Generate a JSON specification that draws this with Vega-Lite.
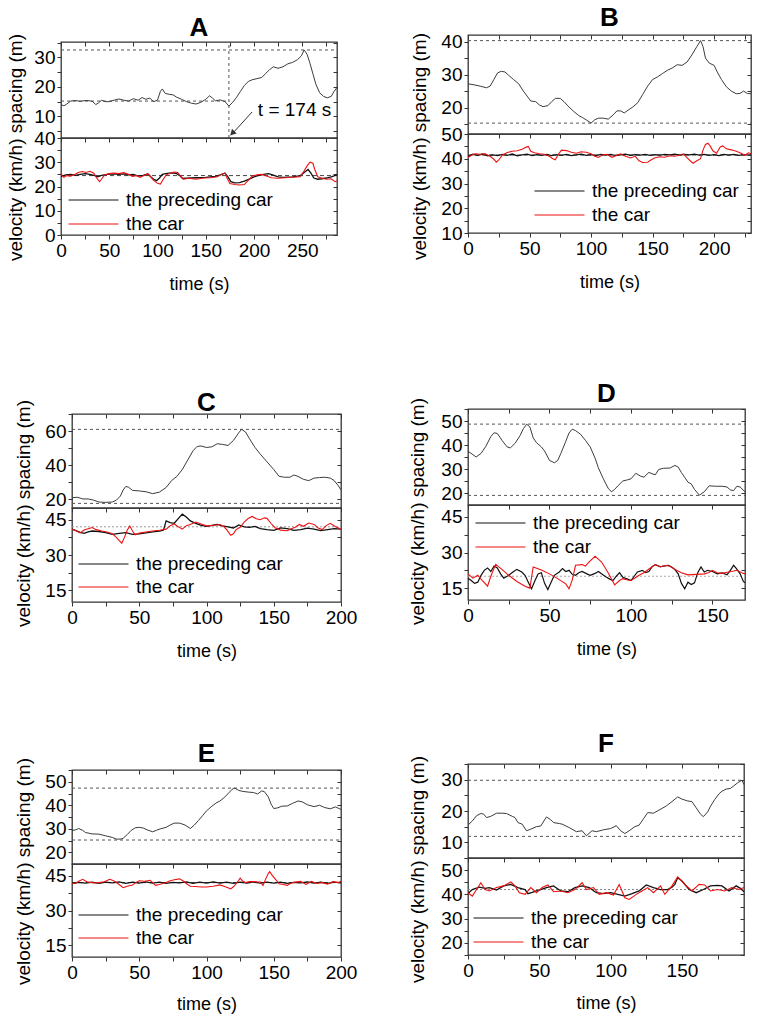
{
"$schema": "https://vega.github.io/schema/vega-lite/v6.json",
"padding": {"left": 5, "top": 3, "right": 0, "bottom": 0},
"config": {
 "font": "Liberation Sans",
 "view": {"stroke": "#333333", "strokeWidth": 1.3},
 "axis": {"grid": false, "domain": false, "labelFont": "Liberation Sans", "labelFontSize": 19, "labelColor": "#000", "titleFont": "Liberation Sans", "titleFontSize": 19, "titleFontWeight": "normal", "titleColor": "#000", "tickColor": "#333", "tickSize": 4, "tickWidth": 1, "labelPadding": 2, "labelFlush": false, "labelOverlap": false, "labelBound": false},
 "title": {"font": "Liberation Sans", "fontSize": 26, "fontWeight": "bold", "color": "#000", "anchor": "middle", "baseline": "alphabetic", "frame": "group"},
 "legend": {"title": null, "orient": "none", "symbolType": "stroke", "symbolSize": 2500, "symbolStrokeWidth": 1, "clipHeight": 20, "rowPadding": 4, "labelFont": "Liberation Sans", "labelFontSize": 19, "labelColor": "#000", "labelOffset": 7, "padding": 0}
},
"datasets": {
 "As": [{"t":0,"v":14},{"t":3,"v":13.6},{"t":6,"v":14.2},{"t":10,"v":15.2},{"t":15,"v":15.4},{"t":20,"v":15.1},{"t":25,"v":15.4},{"t":30,"v":15.3},{"t":33,"v":15.0},{"t":36,"v":14.0},{"t":39,"v":14.6},{"t":42,"v":15.5},{"t":46,"v":15.0},{"t":50,"v":15.0},{"t":55,"v":15.5},{"t":60,"v":15.9},{"t":65,"v":15.5},{"t":70,"v":15.2},{"t":75,"v":16.0},{"t":80,"v":15.5},{"t":84,"v":16.4},{"t":88,"v":15.8},{"t":92,"v":16.2},{"t":96,"v":15.0},{"t":100,"v":15.5},{"t":103,"v":18.5},{"t":105,"v":19.3},{"t":108,"v":17.8},{"t":112,"v":17.5},{"t":116,"v":17.3},{"t":120,"v":16.5},{"t":125,"v":15.8},{"t":130,"v":15.0},{"t":135,"v":14.5},{"t":140,"v":14.2},{"t":145,"v":14.8},{"t":150,"v":15.8},{"t":154,"v":17.0},{"t":157,"v":16.2},{"t":160,"v":15.3},{"t":165,"v":15.6},{"t":170,"v":15.0},{"t":174,"v":13.5},{"t":178,"v":14.8},{"t":182,"v":16.5},{"t":186,"v":18.5},{"t":190,"v":20.5},{"t":194,"v":21.8},{"t":198,"v":22.4},{"t":203,"v":22.8},{"t":208,"v":23.2},{"t":212,"v":24.5},{"t":216,"v":25.8},{"t":220,"v":26.8},{"t":225,"v":26.3},{"t":230,"v":26.8},{"t":235,"v":27.8},{"t":240,"v":28.3},{"t":245,"v":29.2},{"t":249,"v":30.5},{"t":252,"v":32.5},{"t":255,"v":31.0},{"t":258,"v":28.0},{"t":261,"v":24.5},{"t":264,"v":21.0},{"t":268,"v":18.0},{"t":272,"v":16.8},{"t":276,"v":16.3},{"t":280,"v":16.8},{"t":283,"v":18.5},{"t":286,"v":19.8}],
 "Asr": [{"x0":0,"x1":286,"y0":32.5,"y1":32.5},{"x0":0,"x1":174,"y0":15.2,"y1":15.2},{"x0":174,"x1":174,"y0":2.7,"y1":35.2}],
 "Avp": [{"t":0,"v":24.2},{"t":5,"v":24.8},{"t":10,"v":25.0},{"t":15,"v":24.6},{"t":20,"v":25.0},{"t":25,"v":25.3},{"t":30,"v":25.0},{"t":35,"v":24.5},{"t":38,"v":24.0},{"t":42,"v":24.6},{"t":48,"v":25.0},{"t":55,"v":25.2},{"t":60,"v":25.0},{"t":65,"v":25.2},{"t":70,"v":24.8},{"t":75,"v":25.0},{"t":80,"v":24.3},{"t":85,"v":24.6},{"t":90,"v":25.2},{"t":93,"v":24.0},{"t":96,"v":23.0},{"t":99,"v":22.4},{"t":102,"v":23.5},{"t":105,"v":25.0},{"t":110,"v":25.4},{"t":115,"v":25.6},{"t":120,"v":25.3},{"t":123,"v":24.5},{"t":126,"v":23.3},{"t":130,"v":23.4},{"t":140,"v":23.6},{"t":150,"v":23.8},{"t":160,"v":24.2},{"t":165,"v":24.8},{"t":170,"v":25.5},{"t":173,"v":24.0},{"t":176,"v":22.0},{"t":180,"v":21.5},{"t":185,"v":21.6},{"t":190,"v":22.2},{"t":195,"v":23.0},{"t":200,"v":24.0},{"t":205,"v":24.6},{"t":210,"v":25.0},{"t":215,"v":25.3},{"t":220,"v":24.7},{"t":225,"v":24.0},{"t":230,"v":23.8},{"t":240,"v":24.0},{"t":248,"v":24.5},{"t":252,"v":25.8},{"t":256,"v":27.0},{"t":259,"v":25.5},{"t":262,"v":23.5},{"t":266,"v":23.0},{"t":270,"v":23.2},{"t":275,"v":23.5},{"t":280,"v":24.0},{"t":286,"v":24.8}],
 "Avc": [{"t":0,"v":26.8},{"t":1,"v":24.5},{"t":3,"v":23.8},{"t":6,"v":24.5},{"t":10,"v":24.3},{"t":15,"v":25.2},{"t":18,"v":25.8},{"t":22,"v":26.2},{"t":26,"v":25.8},{"t":30,"v":26.3},{"t":34,"v":25.5},{"t":37,"v":23.5},{"t":40,"v":22.0},{"t":42,"v":23.0},{"t":45,"v":24.8},{"t":50,"v":25.3},{"t":55,"v":25.5},{"t":60,"v":25.3},{"t":65,"v":25.7},{"t":70,"v":25.0},{"t":74,"v":24.2},{"t":78,"v":24.5},{"t":82,"v":23.8},{"t":86,"v":24.5},{"t":90,"v":25.3},{"t":93,"v":24.0},{"t":96,"v":22.5},{"t":100,"v":21.3},{"t":103,"v":21.0},{"t":106,"v":23.0},{"t":109,"v":24.8},{"t":113,"v":25.5},{"t":117,"v":26.0},{"t":121,"v":25.8},{"t":124,"v":24.2},{"t":127,"v":23.0},{"t":132,"v":23.4},{"t":140,"v":23.0},{"t":148,"v":23.5},{"t":155,"v":23.6},{"t":162,"v":24.0},{"t":166,"v":25.0},{"t":170,"v":25.6},{"t":172,"v":23.5},{"t":175,"v":21.2},{"t":180,"v":20.8},{"t":185,"v":20.6},{"t":190,"v":20.8},{"t":194,"v":22.5},{"t":198,"v":24.2},{"t":203,"v":24.8},{"t":208,"v":25.0},{"t":213,"v":24.3},{"t":218,"v":23.6},{"t":225,"v":23.4},{"t":232,"v":23.6},{"t":240,"v":23.8},{"t":248,"v":24.0},{"t":252,"v":26.5},{"t":255,"v":28.5},{"t":258,"v":30.0},{"t":261,"v":29.6},{"t":263,"v":27.0},{"t":266,"v":24.0},{"t":270,"v":23.5},{"t":275,"v":23.0},{"t":280,"v":23.2},{"t":284,"v":22.0},{"t":286,"v":22.3}],
 "Avr": [{"x0":0,"x1":286,"y0":24.5,"y1":24.5}],
 "Bs": [{"t":0,"v":27.2},{"t":5,"v":26.9},{"t":10,"v":26.5},{"t":15,"v":26.0},{"t":18,"v":26.5},{"t":21,"v":28.5},{"t":24,"v":30.5},{"t":27,"v":31.0},{"t":30,"v":30.8},{"t":33,"v":29.8},{"t":37,"v":28.5},{"t":41,"v":27.3},{"t":45,"v":25.0},{"t":48,"v":23.5},{"t":51,"v":22.0},{"t":55,"v":21.8},{"t":58,"v":20.8},{"t":61,"v":20.3},{"t":65,"v":20.6},{"t":68,"v":21.8},{"t":71,"v":22.8},{"t":75,"v":22.8},{"t":78,"v":21.8},{"t":82,"v":20.2},{"t":86,"v":18.8},{"t":90,"v":17.6},{"t":93,"v":17.0},{"t":96,"v":16.3},{"t":100,"v":15.3},{"t":103,"v":16.3},{"t":106,"v":16.8},{"t":110,"v":16.8},{"t":114,"v":16.5},{"t":118,"v":17.8},{"t":121,"v":19.0},{"t":124,"v":19.0},{"t":127,"v":18.4},{"t":130,"v":19.2},{"t":134,"v":20.2},{"t":138,"v":21.5},{"t":142,"v":24.0},{"t":146,"v":26.5},{"t":150,"v":28.5},{"t":154,"v":29.3},{"t":158,"v":30.3},{"t":162,"v":31.3},{"t":166,"v":32.0},{"t":170,"v":33.0},{"t":174,"v":32.8},{"t":178,"v":33.8},{"t":182,"v":36.0},{"t":186,"v":38.5},{"t":189,"v":40.3},{"t":191,"v":38.5},{"t":193,"v":35.0},{"t":196,"v":33.5},{"t":200,"v":32.8},{"t":203,"v":30.5},{"t":206,"v":28.5},{"t":210,"v":26.3},{"t":214,"v":25.0},{"t":218,"v":24.2},{"t":221,"v":24.3},{"t":224,"v":25.0},{"t":227,"v":24.3},{"t":230,"v":24.2}],
 "Bsr": [{"x0":0,"x1":230,"y0":40.3,"y1":40.3},{"x0":0,"x1":230,"y0":15.3,"y1":15.3}],
 "Bvp": [{"t":0,"v":41.0},{"t":4,"v":41.8},{"t":8,"v":41.4},{"t":12,"v":41.9},{"t":16,"v":41.2},{"t":20,"v":41.6},{"t":24,"v":41.3},{"t":28,"v":41.8},{"t":32,"v":41.4},{"t":36,"v":41.9},{"t":40,"v":41.2},{"t":44,"v":41.6},{"t":48,"v":41.9},{"t":52,"v":41.3},{"t":56,"v":41.7},{"t":60,"v":41.4},{"t":64,"v":41.8},{"t":68,"v":41.3},{"t":72,"v":41.7},{"t":76,"v":41.4},{"t":80,"v":41.8},{"t":84,"v":41.3},{"t":88,"v":41.6},{"t":92,"v":41.9},{"t":96,"v":41.4},{"t":100,"v":41.7},{"t":104,"v":41.3},{"t":108,"v":41.8},{"t":112,"v":41.5},{"t":116,"v":41.8},{"t":120,"v":41.3},{"t":124,"v":41.6},{"t":128,"v":41.9},{"t":132,"v":41.4},{"t":136,"v":41.7},{"t":140,"v":41.5},{"t":144,"v":41.8},{"t":148,"v":41.4},{"t":152,"v":41.7},{"t":156,"v":41.5},{"t":160,"v":41.8},{"t":164,"v":41.6},{"t":168,"v":41.9},{"t":172,"v":41.5},{"t":176,"v":41.8},{"t":180,"v":41.6},{"t":184,"v":41.9},{"t":188,"v":41.5},{"t":192,"v":41.8},{"t":196,"v":41.4},{"t":200,"v":41.7},{"t":204,"v":41.3},{"t":208,"v":41.8},{"t":212,"v":41.5},{"t":216,"v":41.8},{"t":220,"v":41.4},{"t":224,"v":41.7},{"t":228,"v":41.5},{"t":230,"v":41.6}],
 "Bvc": [{"t":0,"v":40.5},{"t":3,"v":41.5},{"t":6,"v":42.0},{"t":10,"v":41.8},{"t":14,"v":42.0},{"t":18,"v":41.0},{"t":21,"v":39.8},{"t":23,"v":38.6},{"t":25,"v":39.5},{"t":28,"v":41.5},{"t":32,"v":42.5},{"t":36,"v":43.0},{"t":40,"v":43.2},{"t":44,"v":43.8},{"t":47,"v":44.6},{"t":49,"v":45.0},{"t":51,"v":43.0},{"t":54,"v":42.4},{"t":58,"v":42.0},{"t":62,"v":41.8},{"t":66,"v":41.0},{"t":69,"v":40.0},{"t":71,"v":39.6},{"t":73,"v":41.5},{"t":76,"v":43.5},{"t":80,"v":43.3},{"t":84,"v":42.6},{"t":88,"v":42.2},{"t":92,"v":42.8},{"t":96,"v":42.6},{"t":100,"v":42.0},{"t":103,"v":41.0},{"t":106,"v":40.5},{"t":109,"v":41.5},{"t":113,"v":41.8},{"t":117,"v":40.6},{"t":120,"v":41.2},{"t":124,"v":42.0},{"t":128,"v":41.0},{"t":132,"v":40.3},{"t":136,"v":41.0},{"t":139,"v":39.2},{"t":142,"v":38.5},{"t":146,"v":38.6},{"t":149,"v":39.6},{"t":152,"v":40.4},{"t":156,"v":40.8},{"t":160,"v":40.6},{"t":164,"v":41.2},{"t":168,"v":41.0},{"t":172,"v":41.4},{"t":175,"v":42.0},{"t":178,"v":40.5},{"t":181,"v":39.0},{"t":183,"v":38.2},{"t":186,"v":39.2},{"t":189,"v":40.0},{"t":191,"v":43.5},{"t":193,"v":45.8},{"t":195,"v":46.3},{"t":197,"v":45.0},{"t":199,"v":43.2},{"t":202,"v":42.2},{"t":205,"v":44.8},{"t":207,"v":45.2},{"t":210,"v":44.0},{"t":214,"v":43.6},{"t":218,"v":43.0},{"t":222,"v":42.2},{"t":225,"v":41.4},{"t":228,"v":42.4},{"t":230,"v":42.0}],
 "Bvr": [{"x0":0,"x1":230,"y0":41.5,"y1":41.5}],
 "Cs": [{"t":0,"v":21.0},{"t":4,"v":21.3},{"t":8,"v":20.3},{"t":12,"v":20.3},{"t":16,"v":19.6},{"t":20,"v":18.5},{"t":25,"v":18.3},{"t":30,"v":18.5},{"t":33,"v":19.6},{"t":36,"v":22.0},{"t":38,"v":25.5},{"t":40,"v":27.6},{"t":42,"v":27.2},{"t":45,"v":25.3},{"t":50,"v":25.0},{"t":55,"v":24.5},{"t":60,"v":23.4},{"t":65,"v":24.3},{"t":70,"v":27.0},{"t":74,"v":31.0},{"t":78,"v":33.5},{"t":82,"v":37.5},{"t":86,"v":43.0},{"t":90,"v":48.5},{"t":93,"v":51.0},{"t":96,"v":51.3},{"t":100,"v":50.4},{"t":104,"v":50.8},{"t":108,"v":52.6},{"t":112,"v":52.2},{"t":116,"v":51.6},{"t":120,"v":54.5},{"t":124,"v":59.0},{"t":126,"v":61.0},{"t":129,"v":59.5},{"t":132,"v":55.5},{"t":136,"v":50.5},{"t":140,"v":46.5},{"t":145,"v":42.0},{"t":150,"v":37.5},{"t":154,"v":33.5},{"t":158,"v":33.0},{"t":162,"v":33.0},{"t":165,"v":34.3},{"t":168,"v":33.5},{"t":172,"v":31.8},{"t":176,"v":31.0},{"t":180,"v":32.5},{"t":184,"v":32.8},{"t":188,"v":33.0},{"t":192,"v":32.5},{"t":195,"v":31.0},{"t":198,"v":28.0},{"t":200,"v":25.5}],
 "Csr": [{"x0":0,"x1":200,"y0":61.0,"y1":61.0},{"x0":0,"x1":200,"y0":17.7,"y1":17.7}],
 "Cvp": [{"t":0,"v":41.0},{"t":3,"v":40.4},{"t":6,"v":39.6},{"t":9,"v":39.2},{"t":12,"v":39.8},{"t":15,"v":40.2},{"t":20,"v":40.0},{"t":25,"v":39.5},{"t":30,"v":38.8},{"t":35,"v":39.2},{"t":40,"v":39.5},{"t":45,"v":38.8},{"t":50,"v":39.0},{"t":55,"v":39.4},{"t":60,"v":39.8},{"t":65,"v":40.2},{"t":68,"v":40.6},{"t":70,"v":44.5},{"t":73,"v":43.8},{"t":76,"v":43.5},{"t":79,"v":45.5},{"t":82,"v":47.4},{"t":85,"v":46.2},{"t":88,"v":44.5},{"t":92,"v":43.5},{"t":96,"v":42.6},{"t":100,"v":42.2},{"t":104,"v":42.6},{"t":108,"v":43.0},{"t":112,"v":42.4},{"t":116,"v":42.0},{"t":120,"v":41.5},{"t":124,"v":42.8},{"t":128,"v":42.0},{"t":132,"v":41.8},{"t":136,"v":42.2},{"t":140,"v":41.2},{"t":145,"v":40.8},{"t":150,"v":40.5},{"t":155,"v":41.5},{"t":160,"v":41.2},{"t":165,"v":40.5},{"t":170,"v":40.8},{"t":175,"v":41.4},{"t":180,"v":41.0},{"t":185,"v":40.4},{"t":190,"v":40.8},{"t":195,"v":41.2},{"t":200,"v":41.0}],
 "Cvc": [{"t":0,"v":41.0},{"t":3,"v":40.3},{"t":6,"v":39.4},{"t":9,"v":40.6},{"t":12,"v":41.2},{"t":15,"v":41.7},{"t":18,"v":40.8},{"t":22,"v":40.2},{"t":26,"v":39.8},{"t":30,"v":39.0},{"t":33,"v":37.5},{"t":35,"v":36.2},{"t":37,"v":35.0},{"t":39,"v":37.5},{"t":41,"v":40.5},{"t":43,"v":42.3},{"t":45,"v":40.2},{"t":47,"v":38.6},{"t":50,"v":39.3},{"t":55,"v":39.8},{"t":60,"v":40.2},{"t":65,"v":40.5},{"t":70,"v":41.0},{"t":73,"v":42.5},{"t":76,"v":43.2},{"t":79,"v":42.0},{"t":82,"v":41.0},{"t":85,"v":42.5},{"t":88,"v":43.0},{"t":92,"v":44.0},{"t":96,"v":43.2},{"t":100,"v":42.4},{"t":105,"v":42.6},{"t":110,"v":43.0},{"t":113,"v":42.0},{"t":115,"v":40.8},{"t":118,"v":38.4},{"t":120,"v":39.0},{"t":122,"v":40.8},{"t":125,"v":41.8},{"t":128,"v":44.0},{"t":131,"v":45.5},{"t":134,"v":46.4},{"t":137,"v":45.4},{"t":140,"v":45.0},{"t":143,"v":45.8},{"t":145,"v":45.6},{"t":148,"v":43.4},{"t":151,"v":41.6},{"t":155,"v":40.6},{"t":160,"v":40.3},{"t":163,"v":41.2},{"t":166,"v":41.8},{"t":169,"v":43.0},{"t":172,"v":42.2},{"t":176,"v":43.6},{"t":180,"v":43.0},{"t":183,"v":41.5},{"t":186,"v":40.8},{"t":189,"v":42.5},{"t":192,"v":43.5},{"t":196,"v":42.0},{"t":200,"v":41.0}],
 "Cvr": [{"x0":0,"x1":200,"y0":42.0,"y1":42.0}],
 "Ds": [{"t":0,"v":37.4},{"t":3,"v":36.0},{"t":5,"v":35.0},{"t":8,"v":36.5},{"t":11,"v":39.5},{"t":14,"v":43.5},{"t":16,"v":45.1},{"t":18,"v":44.8},{"t":21,"v":41.8},{"t":24,"v":39.2},{"t":26,"v":38.8},{"t":29,"v":40.8},{"t":32,"v":44.0},{"t":34,"v":46.8},{"t":36,"v":48.7},{"t":38,"v":47.5},{"t":40,"v":43.0},{"t":42,"v":41.0},{"t":45,"v":39.2},{"t":47,"v":37.5},{"t":50,"v":33.6},{"t":53,"v":32.6},{"t":55,"v":33.5},{"t":57,"v":36.5},{"t":60,"v":41.5},{"t":62,"v":45.0},{"t":64,"v":46.6},{"t":66,"v":46.0},{"t":69,"v":44.5},{"t":72,"v":42.0},{"t":75,"v":39.2},{"t":78,"v":34.5},{"t":80,"v":30.5},{"t":83,"v":26.0},{"t":86,"v":22.0},{"t":88,"v":20.5},{"t":90,"v":21.5},{"t":92,"v":23.0},{"t":95,"v":25.0},{"t":98,"v":25.5},{"t":100,"v":25.9},{"t":103,"v":28.2},{"t":106,"v":27.0},{"t":108,"v":26.6},{"t":111,"v":28.6},{"t":113,"v":28.0},{"t":115,"v":27.6},{"t":117,"v":29.8},{"t":120,"v":30.3},{"t":124,"v":30.4},{"t":127,"v":31.5},{"t":129,"v":30.8},{"t":131,"v":28.5},{"t":133,"v":26.5},{"t":135,"v":24.5},{"t":137,"v":23.8},{"t":139,"v":21.5},{"t":142,"v":19.1},{"t":145,"v":20.5},{"t":148,"v":23.0},{"t":152,"v":22.8},{"t":156,"v":22.8},{"t":159,"v":22.5},{"t":161,"v":21.3},{"t":163,"v":21.0},{"t":165,"v":22.8},{"t":167,"v":22.5},{"t":170,"v":20.5}],
 "Dsr": [{"x0":0,"x1":170,"y0":48.7,"y1":48.7},{"x0":0,"x1":170,"y0":19.0,"y1":19.0}],
 "Dvp": [{"t":0,"v":19.2},{"t":2,"v":18.2},{"t":4,"v":17.0},{"t":6,"v":17.5},{"t":8,"v":20.4},{"t":10,"v":22.5},{"t":12,"v":23.5},{"t":14,"v":22.0},{"t":16,"v":24.3},{"t":18,"v":23.5},{"t":20,"v":21.0},{"t":22,"v":19.2},{"t":25,"v":20.4},{"t":28,"v":22.0},{"t":30,"v":22.9},{"t":33,"v":21.8},{"t":35,"v":20.4},{"t":37,"v":17.5},{"t":39,"v":14.7},{"t":41,"v":18.0},{"t":43,"v":21.0},{"t":45,"v":21.5},{"t":47,"v":17.0},{"t":49,"v":14.4},{"t":51,"v":17.5},{"t":53,"v":20.4},{"t":56,"v":21.8},{"t":58,"v":23.2},{"t":60,"v":22.0},{"t":62,"v":22.5},{"t":64,"v":20.8},{"t":66,"v":20.4},{"t":68,"v":21.5},{"t":70,"v":22.0},{"t":73,"v":21.0},{"t":75,"v":20.4},{"t":78,"v":21.2},{"t":80,"v":22.0},{"t":83,"v":20.5},{"t":85,"v":19.6},{"t":87,"v":18.8},{"t":89,"v":18.2},{"t":91,"v":20.0},{"t":93,"v":21.5},{"t":95,"v":19.6},{"t":98,"v":18.8},{"t":100,"v":18.2},{"t":102,"v":20.0},{"t":104,"v":21.8},{"t":107,"v":22.5},{"t":109,"v":21.5},{"t":111,"v":22.0},{"t":113,"v":24.0},{"t":115,"v":24.9},{"t":118,"v":24.0},{"t":120,"v":24.3},{"t":123,"v":24.6},{"t":125,"v":23.9},{"t":127,"v":22.8},{"t":129,"v":21.0},{"t":131,"v":17.0},{"t":133,"v":14.7},{"t":135,"v":17.5},{"t":137,"v":16.5},{"t":139,"v":17.2},{"t":141,"v":21.5},{"t":143,"v":23.9},{"t":145,"v":21.8},{"t":147,"v":22.5},{"t":150,"v":22.0},{"t":153,"v":21.0},{"t":156,"v":21.4},{"t":159,"v":20.6},{"t":161,"v":22.5},{"t":163,"v":24.6},{"t":165,"v":23.0},{"t":167,"v":21.0},{"t":169,"v":17.8},{"t":170,"v":17.3}],
 "Dvc": [{"t":0,"v":21.0},{"t":3,"v":19.2},{"t":6,"v":20.4},{"t":9,"v":18.0},{"t":12,"v":15.8},{"t":14,"v":20.0},{"t":17,"v":25.0},{"t":21,"v":22.8},{"t":25,"v":20.4},{"t":30,"v":17.8},{"t":35,"v":15.8},{"t":38,"v":15.0},{"t":40,"v":23.9},{"t":45,"v":22.6},{"t":50,"v":21.0},{"t":55,"v":19.0},{"t":60,"v":16.8},{"t":62,"v":14.7},{"t":64,"v":18.5},{"t":66,"v":24.6},{"t":70,"v":24.9},{"t":72,"v":24.3},{"t":75,"v":26.5},{"t":78,"v":28.4},{"t":80,"v":27.2},{"t":82,"v":26.0},{"t":86,"v":21.5},{"t":90,"v":16.4},{"t":93,"v":18.2},{"t":95,"v":19.0},{"t":98,"v":18.4},{"t":100,"v":18.2},{"t":103,"v":19.5},{"t":105,"v":20.4},{"t":108,"v":21.5},{"t":110,"v":22.5},{"t":113,"v":24.0},{"t":115,"v":24.9},{"t":118,"v":24.0},{"t":122,"v":24.6},{"t":125,"v":23.8},{"t":128,"v":22.5},{"t":131,"v":21.5},{"t":135,"v":20.6},{"t":140,"v":20.8},{"t":145,"v":21.0},{"t":148,"v":21.6},{"t":150,"v":22.5},{"t":153,"v":21.5},{"t":156,"v":21.2},{"t":160,"v":21.8},{"t":163,"v":22.2},{"t":165,"v":22.5},{"t":168,"v":21.5},{"t":170,"v":21.0}],
 "Dvr": [{"x0":0,"x1":170,"y0":20.0,"y1":20.0}],
 "Es": [{"t":0,"v":29.2},{"t":3,"v":29.6},{"t":5,"v":30.1},{"t":8,"v":29.3},{"t":10,"v":28.4},{"t":15,"v":27.8},{"t":20,"v":27.7},{"t":25,"v":27.0},{"t":30,"v":26.3},{"t":33,"v":25.6},{"t":36,"v":25.6},{"t":38,"v":25.9},{"t":41,"v":27.5},{"t":44,"v":29.3},{"t":47,"v":30.4},{"t":50,"v":30.6},{"t":53,"v":30.3},{"t":56,"v":29.5},{"t":60,"v":28.7},{"t":63,"v":29.4},{"t":66,"v":30.0},{"t":70,"v":30.6},{"t":73,"v":31.6},{"t":76,"v":32.4},{"t":80,"v":32.4},{"t":84,"v":31.6},{"t":88,"v":30.1},{"t":91,"v":31.6},{"t":94,"v":33.5},{"t":97,"v":35.5},{"t":100,"v":37.6},{"t":104,"v":39.6},{"t":107,"v":40.9},{"t":110,"v":41.8},{"t":113,"v":43.2},{"t":116,"v":44.9},{"t":119,"v":46.8},{"t":121,"v":47.3},{"t":124,"v":46.3},{"t":127,"v":45.9},{"t":131,"v":45.6},{"t":135,"v":45.4},{"t":138,"v":44.8},{"t":141,"v":46.1},{"t":143,"v":45.8},{"t":146,"v":43.5},{"t":148,"v":40.5},{"t":150,"v":38.6},{"t":153,"v":38.9},{"t":156,"v":39.6},{"t":160,"v":39.7},{"t":164,"v":40.8},{"t":168,"v":41.8},{"t":171,"v":41.5},{"t":175,"v":40.2},{"t":180,"v":39.4},{"t":184,"v":40.0},{"t":188,"v":39.0},{"t":192,"v":38.5},{"t":196,"v":39.3},{"t":200,"v":38.2}],
 "Esr": [{"x0":0,"x1":200,"y0":47.3,"y1":47.3},{"x0":0,"x1":200,"y0":25.2,"y1":25.2}],
 "Evp": [{"t":0,"v":41.6},{"t":5,"v":42.1},{"t":10,"v":41.8},{"t":15,"v":42.2},{"t":20,"v":41.7},{"t":25,"v":42.2},{"t":30,"v":41.9},{"t":35,"v":42.3},{"t":40,"v":41.7},{"t":45,"v":42.2},{"t":50,"v":41.8},{"t":55,"v":42.3},{"t":60,"v":41.8},{"t":65,"v":42.2},{"t":70,"v":41.7},{"t":75,"v":42.1},{"t":80,"v":41.9},{"t":85,"v":42.3},{"t":90,"v":41.7},{"t":95,"v":42.2},{"t":100,"v":41.8},{"t":105,"v":42.3},{"t":110,"v":41.8},{"t":115,"v":42.2},{"t":120,"v":41.7},{"t":125,"v":42.2},{"t":130,"v":41.8},{"t":135,"v":42.3},{"t":140,"v":41.8},{"t":145,"v":42.2},{"t":150,"v":41.8},{"t":155,"v":42.2},{"t":160,"v":41.7},{"t":165,"v":42.1},{"t":170,"v":41.9},{"t":175,"v":42.3},{"t":180,"v":41.8},{"t":185,"v":42.2},{"t":190,"v":41.7},{"t":195,"v":42.2},{"t":200,"v":41.9}],
 "Evc": [{"t":0,"v":41.5},{"t":3,"v":41.8},{"t":5,"v":42.6},{"t":8,"v":43.4},{"t":10,"v":42.7},{"t":12,"v":42.2},{"t":16,"v":41.9},{"t":20,"v":42.0},{"t":24,"v":42.4},{"t":28,"v":43.4},{"t":30,"v":43.0},{"t":32,"v":42.5},{"t":35,"v":41.2},{"t":38,"v":39.8},{"t":41,"v":40.4},{"t":45,"v":41.0},{"t":48,"v":42.2},{"t":50,"v":42.8},{"t":54,"v":42.6},{"t":58,"v":43.0},{"t":60,"v":42.0},{"t":62,"v":40.8},{"t":65,"v":41.2},{"t":70,"v":42.0},{"t":73,"v":42.8},{"t":76,"v":43.2},{"t":80,"v":43.6},{"t":83,"v":42.6},{"t":86,"v":41.2},{"t":88,"v":40.4},{"t":92,"v":40.3},{"t":96,"v":40.1},{"t":100,"v":40.1},{"t":105,"v":40.4},{"t":110,"v":41.0},{"t":114,"v":40.2},{"t":118,"v":39.3},{"t":120,"v":40.2},{"t":122,"v":41.5},{"t":124,"v":43.0},{"t":125,"v":43.9},{"t":127,"v":42.6},{"t":129,"v":42.0},{"t":132,"v":42.4},{"t":135,"v":42.5},{"t":138,"v":42.2},{"t":140,"v":42.2},{"t":142,"v":40.8},{"t":144,"v":43.5},{"t":146,"v":46.0},{"t":147,"v":46.7},{"t":149,"v":45.0},{"t":151,"v":43.6},{"t":154,"v":41.5},{"t":157,"v":41.2},{"t":160,"v":40.8},{"t":163,"v":41.8},{"t":166,"v":42.2},{"t":170,"v":42.5},{"t":174,"v":41.2},{"t":178,"v":42.5},{"t":182,"v":41.6},{"t":186,"v":42.0},{"t":190,"v":41.3},{"t":194,"v":42.4},{"t":198,"v":42.0},{"t":200,"v":42.6}],
 "Evr": [{"x0":0,"x1":200,"y0":42.0,"y1":42.0}],
 "Fs": [{"t":0,"v":15.5},{"t":3,"v":16.8},{"t":6,"v":18.5},{"t":9,"v":19.2},{"t":11,"v":19.0},{"t":13,"v":17.9},{"t":16,"v":18.3},{"t":20,"v":19.3},{"t":24,"v":19.3},{"t":27,"v":19.2},{"t":31,"v":18.3},{"t":33,"v":17.9},{"t":35,"v":16.3},{"t":38,"v":15.8},{"t":41,"v":13.7},{"t":44,"v":14.2},{"t":48,"v":15.0},{"t":51,"v":15.2},{"t":55,"v":18.1},{"t":58,"v":17.2},{"t":60,"v":16.3},{"t":64,"v":16.0},{"t":66,"v":15.8},{"t":71,"v":14.7},{"t":76,"v":13.4},{"t":80,"v":13.7},{"t":83,"v":12.1},{"t":87,"v":13.7},{"t":90,"v":13.4},{"t":95,"v":14.0},{"t":100,"v":14.4},{"t":104,"v":15.3},{"t":107,"v":13.7},{"t":110,"v":12.8},{"t":113,"v":13.7},{"t":117,"v":15.0},{"t":120,"v":15.5},{"t":123,"v":17.5},{"t":126,"v":19.5},{"t":130,"v":19.3},{"t":134,"v":20.3},{"t":139,"v":21.6},{"t":143,"v":23.0},{"t":147,"v":24.5},{"t":150,"v":23.8},{"t":154,"v":23.2},{"t":157,"v":23.0},{"t":160,"v":21.0},{"t":163,"v":19.0},{"t":165,"v":18.2},{"t":168,"v":19.7},{"t":170,"v":21.5},{"t":173,"v":23.7},{"t":176,"v":25.5},{"t":178,"v":26.3},{"t":181,"v":27.0},{"t":184,"v":27.2},{"t":186,"v":27.9},{"t":189,"v":29.0},{"t":192,"v":29.8},{"t":193.5,"v":28.4}],
 "Fsr": [{"x0":0,"x1":193.5,"y0":29.8,"y1":29.8},{"x0":0,"x1":193.5,"y0":11.9,"y1":11.9}],
 "Fvp": [{"t":0,"v":40.3},{"t":3,"v":42.0},{"t":8,"v":43.0},{"t":12,"v":42.5},{"t":15,"v":42.8},{"t":20,"v":41.8},{"t":25,"v":43.5},{"t":30,"v":44.1},{"t":35,"v":42.8},{"t":40,"v":42.0},{"t":42,"v":40.3},{"t":45,"v":40.8},{"t":48,"v":41.4},{"t":52,"v":42.2},{"t":55,"v":42.8},{"t":60,"v":43.5},{"t":65,"v":41.4},{"t":70,"v":41.1},{"t":75,"v":42.8},{"t":80,"v":43.5},{"t":85,"v":42.8},{"t":88,"v":41.5},{"t":90,"v":40.7},{"t":95,"v":40.3},{"t":100,"v":40.7},{"t":105,"v":40.0},{"t":110,"v":39.3},{"t":115,"v":40.3},{"t":120,"v":41.4},{"t":125,"v":43.9},{"t":130,"v":42.8},{"t":135,"v":42.0},{"t":140,"v":42.0},{"t":143,"v":43.0},{"t":145,"v":44.1},{"t":147,"v":46.9},{"t":150,"v":45.5},{"t":155,"v":42.0},{"t":160,"v":40.7},{"t":165,"v":42.0},{"t":170,"v":43.5},{"t":175,"v":43.7},{"t":178,"v":43.5},{"t":183,"v":41.4},{"t":188,"v":43.5},{"t":191,"v":42.5},{"t":193.5,"v":41.1}],
 "Fvc": [{"t":0,"v":40.7},{"t":3,"v":39.3},{"t":6,"v":42.0},{"t":9,"v":44.8},{"t":12,"v":42.0},{"t":15,"v":41.4},{"t":20,"v":42.8},{"t":25,"v":43.5},{"t":30,"v":45.1},{"t":33,"v":43.5},{"t":36,"v":40.7},{"t":40,"v":40.0},{"t":44,"v":42.8},{"t":48,"v":40.7},{"t":52,"v":42.8},{"t":56,"v":43.9},{"t":60,"v":41.1},{"t":65,"v":41.4},{"t":70,"v":40.7},{"t":75,"v":42.0},{"t":80,"v":44.8},{"t":83,"v":42.0},{"t":88,"v":42.8},{"t":92,"v":40.0},{"t":97,"v":40.7},{"t":102,"v":39.7},{"t":106,"v":44.1},{"t":110,"v":38.6},{"t":113,"v":37.9},{"t":118,"v":40.0},{"t":122,"v":41.4},{"t":126,"v":42.8},{"t":130,"v":40.7},{"t":135,"v":43.5},{"t":138,"v":40.0},{"t":143,"v":43.5},{"t":147,"v":47.2},{"t":152,"v":44.1},{"t":157,"v":41.4},{"t":162,"v":44.1},{"t":166,"v":43.9},{"t":170,"v":41.4},{"t":175,"v":42.0},{"t":180,"v":41.4},{"t":185,"v":42.8},{"t":190,"v":42.0},{"t":193.5,"v":42.8}],
 "Fvr": [{"x0":0,"x1":193.5,"y0":42.0,"y1":42.0}]
},
"bounds": "flush",
"spacing": 407,
"resolve": {"scale": {"color": "independent"}, "legend": {"color": "independent"}},
"hconcat": [
 {"bounds": "flush", "spacing": 0, "resolve": {"scale": {"color": "independent"}, "legend": {"color": "independent"}},
  "vconcat": [
   {"width": 1, "height": 7, "data": {"values": [{}]}, "mark": {"type": "point", "opacity": 0}, "encoding": {}, "view": {"stroke": null}},
   {"width": 276, "height": 96, "title": {"text": "A", "offset": -7},
    "layer": [
     {"data": {"name": "Asr"}, "mark": {"type": "rule", "color": "#555", "strokeDash": [3,3], "strokeWidth": 1},
      "encoding": {"x": {"field": "x0", "type": "quantitative", "scale": {"domain": [0,286], "nice": false, "zero": false}, "axis": {"orient": "top", "values": [0,25,50,75,100,125,150,175,200,225,250,275], "labels": false, "tickSize": -4, "title": null}}, "x2": {"field": "x1"},
       "y": {"field": "y0", "type": "quantitative", "scale": {"domain": [2.7,35.2], "nice": false, "zero": false}, "axis": {"orient": "right", "values": [5,10,15,20,25,30,35], "labels": false, "tickSize": -4, "title": null}}, "y2": {"field": "y1"}}},
     {"data": {"name": "As"}, "mark": {"type": "line", "color": "#3c3c3c", "strokeWidth": 1, "clip": true},
      "encoding": {"x": {"field": "t", "type": "quantitative", "scale": {"domain": [0,286], "nice": false, "zero": false}, "axis": null},
       "y": {"field": "v", "type": "quantitative", "scale": {"domain": [2.7,35.2], "nice": false, "zero": false}, "axis": {"orient": "left", "values": [5,10,15,20,25,30,35], "labelExpr": "datum.value % 10 === 0 ? datum.label : ''", "title": "velocity (km/h) spacing (m)", "titleX": -36, "titleY": 105, "titleBaseline": "bottom", "titleAlign": "center", "titleAngle": 270}}}},
     {"data": {"values": [{"t": 198, "v": 11.5}, {"t": 176, "v": 3.6}]}, "mark": {"type": "line", "color": "#333", "strokeWidth": 1},
      "encoding": {"x": {"field": "t", "type": "quantitative", "scale": {"domain": [0,286], "nice": false, "zero": false}, "axis": null}, "y": {"field": "v", "type": "quantitative", "scale": {"domain": [2.7,35.2], "nice": false, "zero": false}, "axis": null}}},
     {"data": {"values": [{"t": 177.5, "v": 4.3}]}, "mark": {"type": "point", "shape": "triangle-up", "size": 45, "filled": true, "color": "#333", "angle": 225, "opacity": 1},
      "encoding": {"x": {"field": "t", "type": "quantitative", "scale": {"domain": [0,286], "nice": false, "zero": false}, "axis": null}, "y": {"field": "v", "type": "quantitative", "scale": {"domain": [2.7,35.2], "nice": false, "zero": false}, "axis": null}}},
     {"data": {"values": [{"t": 204, "v": 12.2, "label": "t = 174 s"}]}, "mark": {"type": "text", "align": "left", "baseline": "middle", "fontSize": 19, "color": "#000"},
      "encoding": {"x": {"field": "t", "type": "quantitative", "scale": {"domain": [0,286], "nice": false, "zero": false}, "axis": null}, "y": {"field": "v", "type": "quantitative", "scale": {"domain": [2.7,35.2], "nice": false, "zero": false}, "axis": null}, "text": {"field": "label"}}}
    ],
    "resolve": {"axis": {"x": "independent", "y": "independent"}}},
   {"width": 276, "height": 97,
    "layer": [
     {"data": {"name": "Avr"}, "mark": {"type": "rule", "color": "#444", "strokeDash": [4,3], "strokeWidth": 1},
      "encoding": {"x": {"field": "x0", "type": "quantitative", "scale": {"domain": [0,286], "nice": false, "zero": false}, "axis": {"orient": "top", "values": [0,25,50,75,100,125,150,175,200,225,250,275], "labels": false, "tickSize": -4, "title": null}}, "x2": {"field": "x1"},
       "y": {"field": "y0", "type": "quantitative", "scale": {"domain": [0,40], "nice": false, "zero": false}, "axis": {"orient": "right", "values": [0,5,10,15,20,25,30,35,40], "labels": false, "tickSize": -4, "title": null}}, "y2": {"field": "y1"}}},
     {"data": {"name": "Avp"}, "mark": {"type": "line", "strokeWidth": 1.3, "clip": true},
      "encoding": {"x": {"field": "t", "type": "quantitative", "scale": {"domain": [0,286], "nice": false, "zero": false}, "axis": {"orient": "bottom", "values": [0,25,50,75,100,125,150,175,200,225,250,275], "labelExpr": "datum.value % 50 === 0 ? datum.label : ''", "title": "time (s)", "titleY": 49, "titleBaseline": "middle", "titleFontSize": 18}},
       "y": {"field": "v", "type": "quantitative", "scale": {"domain": [0,40], "nice": false, "zero": false}, "axis": {"orient": "left", "values": [0,5,10,15,20,25,30,35,40], "labelExpr": "datum.value % 10 === 0 ? datum.label : ''", "title": null}},
       "color": {"datum": "the preceding car", "type": "nominal", "scale": {"domain": ["the preceding car", "the car"], "range": ["#111111", "#ee1111"]}, "legend": {"legendX": 7, "legendY": 52}}}},
     {"data": {"name": "Avc"}, "mark": {"type": "line", "strokeWidth": 1.1, "clip": true},
      "encoding": {"x": {"field": "t", "type": "quantitative", "scale": {"domain": [0,286], "nice": false, "zero": false}, "axis": null},
       "y": {"field": "v", "type": "quantitative", "scale": {"domain": [0,40], "nice": false, "zero": false}, "axis": null},
       "color": {"datum": "the car", "type": "nominal", "scale": {"domain": ["the preceding car", "the car"], "range": ["#111111", "#ee1111"]}}}}
    ],
    "resolve": {"axis": {"x": "independent", "y": "independent"}}},
   {"width": 1, "height": 179, "data": {"values": [{}]}, "mark": {"type": "point", "opacity": 0}, "encoding": {}, "view": {"stroke": null}},
   {"bounds": "flush", "spacing": 0, "resolve": {"scale": {"color": "independent"}, "legend": {"color": "independent"}},
    "hconcat": [
     {"width": 11, "height": 1, "data": {"values": [{}]}, "mark": {"type": "point", "opacity": 0}, "encoding": {}, "view": {"stroke": null}},
     {"bounds": "flush", "spacing": 0, "resolve": {"scale": {"color": "independent"}, "legend": {"color": "independent"}},
      "vconcat": [
       {"width": 269, "height": 94, "title": {"text": "C", "offset": -16},
        "layer": [
         {"data": {"name": "Csr"}, "mark": {"type": "rule", "color": "#555", "strokeDash": [3,3], "strokeWidth": 1},
          "encoding": {"x": {"field": "x0", "type": "quantitative", "scale": {"domain": [0,200], "nice": false, "zero": false}, "axis": {"orient": "top", "values": [0,25,50,75,100,125,150,175,200], "labels": false, "tickSize": -4, "title": null}}, "x2": {"field": "x1"},
           "y": {"field": "y0", "type": "quantitative", "scale": {"domain": [15,70], "nice": false, "zero": false}, "axis": {"orient": "right", "values": [20,30,40,50,60,70], "labels": false, "tickSize": -4, "title": null}}, "y2": {"field": "y1"}}},
         {"data": {"name": "Cs"}, "mark": {"type": "line", "color": "#3c3c3c", "strokeWidth": 1, "clip": true},
          "encoding": {"x": {"field": "t", "type": "quantitative", "scale": {"domain": [0,200], "nice": false, "zero": false}, "axis": null},
           "y": {"field": "v", "type": "quantitative", "scale": {"domain": [15,70], "nice": false, "zero": false}, "axis": {"orient": "left", "values": [20,30,40,50,60,70], "labelExpr": "datum.value % 20 === 0 ? datum.label : ''", "title": "velocity (km/h) spacing (m)", "titleX": -39, "titleY": 99, "titleBaseline": "bottom", "titleAlign": "center", "titleAngle": 270}}}}
        ],
        "resolve": {"axis": {"x": "independent", "y": "independent"}}},
       {"width": 269, "height": 94,
        "layer": [
         {"data": {"name": "Cvr"}, "mark": {"type": "rule", "color": "#999", "strokeDash": [2,2], "strokeWidth": 1},
          "encoding": {"x": {"field": "x0", "type": "quantitative", "scale": {"domain": [0,200], "nice": false, "zero": false}, "axis": {"orient": "top", "values": [0,25,50,75,100,125,150,175,200], "labels": false, "tickSize": -4, "title": null}}, "x2": {"field": "x1"},
           "y": {"field": "y0", "type": "quantitative", "scale": {"domain": [10,50], "nice": false, "zero": false}, "axis": {"orient": "right", "values": [15,22.5,30,37.5,45], "labels": false, "tickSize": -4, "title": null}}, "y2": {"field": "y1"}}},
         {"data": {"name": "Cvp"}, "mark": {"type": "line", "strokeWidth": 1.3, "clip": true},
          "encoding": {"x": {"field": "t", "type": "quantitative", "scale": {"domain": [0,200], "nice": false, "zero": false}, "axis": {"orient": "bottom", "values": [0,25,50,75,100,125,150,175,200], "labelExpr": "datum.value % 50 === 0 ? datum.label : ''", "title": "time (s)", "titleY": 49, "titleBaseline": "middle", "titleFontSize": 18}},
           "y": {"field": "v", "type": "quantitative", "scale": {"domain": [10,50], "nice": false, "zero": false}, "axis": {"orient": "left", "values": [15,22.5,30,37.5,45], "labelExpr": "datum.value % 15 === 0 ? datum.label : ''", "title": null}},
           "color": {"datum": "the preceding car", "type": "nominal", "scale": {"domain": ["the preceding car", "the car"], "range": ["#111111", "#ee1111"]}, "legend": {"legendX": 6, "legendY": 46, "rowPadding": 3}}}},
         {"data": {"name": "Cvc"}, "mark": {"type": "line", "strokeWidth": 1.1, "clip": true},
          "encoding": {"x": {"field": "t", "type": "quantitative", "scale": {"domain": [0,200], "nice": false, "zero": false}, "axis": null},
           "y": {"field": "v", "type": "quantitative", "scale": {"domain": [10,50], "nice": false, "zero": false}, "axis": null},
           "color": {"datum": "the car", "type": "nominal", "scale": {"domain": ["the preceding car", "the car"], "range": ["#111111", "#ee1111"]}}}}
        ],
        "resolve": {"axis": {"x": "independent", "y": "independent"}}}
      ]}
    ]},
   {"width": 1, "height": 356, "data": {"values": [{}]}, "mark": {"type": "point", "opacity": 0}, "encoding": {}, "view": {"stroke": null}},
   {"bounds": "flush", "spacing": 0, "resolve": {"scale": {"color": "independent"}, "legend": {"color": "independent"}},
    "hconcat": [
     {"width": 11, "height": 1, "data": {"values": [{}]}, "mark": {"type": "point", "opacity": 0}, "encoding": {}, "view": {"stroke": null}},
     {"bounds": "flush", "spacing": 0, "resolve": {"scale": {"color": "independent"}, "legend": {"color": "independent"}},
      "vconcat": [
       {"width": 269, "height": 94, "title": {"text": "E", "offset": -9},
        "layer": [
         {"data": {"name": "Esr"}, "mark": {"type": "rule", "color": "#555", "strokeDash": [3,3], "strokeWidth": 1},
          "encoding": {"x": {"field": "x0", "type": "quantitative", "scale": {"domain": [0,200], "nice": false, "zero": false}, "axis": {"orient": "top", "values": [0,25,50,75,100,125,150,175,200], "labels": false, "tickSize": -4, "title": null}}, "x2": {"field": "x1"},
           "y": {"field": "y0", "type": "quantitative", "scale": {"domain": [15,55], "nice": false, "zero": false}, "axis": {"orient": "right", "values": [20,25,30,35,40,45,50,55], "labels": false, "tickSize": -4, "title": null}}, "y2": {"field": "y1"}}},
         {"data": {"name": "Es"}, "mark": {"type": "line", "color": "#3c3c3c", "strokeWidth": 1, "clip": true},
          "encoding": {"x": {"field": "t", "type": "quantitative", "scale": {"domain": [0,200], "nice": false, "zero": false}, "axis": null},
           "y": {"field": "v", "type": "quantitative", "scale": {"domain": [15,55], "nice": false, "zero": false}, "axis": {"orient": "left", "values": [20,25,30,35,40,45,50,55], "labelExpr": "datum.value % 10 === 0 ? datum.label : ''", "title": "velocity (km/h) spacing (m)", "titleX": -39, "titleY": 101, "titleBaseline": "bottom", "titleAlign": "center", "titleAngle": 270}}}}
        ],
        "resolve": {"axis": {"x": "independent", "y": "independent"}}},
       {"width": 269, "height": 93,
        "layer": [
         {"data": {"name": "Evr"}, "mark": {"type": "rule", "color": "#333", "strokeDash": [4,3], "strokeWidth": 1},
          "encoding": {"x": {"field": "x0", "type": "quantitative", "scale": {"domain": [0,200], "nice": false, "zero": false}, "axis": {"orient": "top", "values": [0,25,50,75,100,125,150,175,200], "labels": false, "tickSize": -4, "title": null}}, "x2": {"field": "x1"},
           "y": {"field": "y0", "type": "quantitative", "scale": {"domain": [10,50], "nice": false, "zero": false}, "axis": {"orient": "right", "values": [15,22.5,30,37.5,45], "labels": false, "tickSize": -4, "title": null}}, "y2": {"field": "y1"}}},
         {"data": {"name": "Evp"}, "mark": {"type": "line", "strokeWidth": 1.3, "clip": true},
          "encoding": {"x": {"field": "t", "type": "quantitative", "scale": {"domain": [0,200], "nice": false, "zero": false}, "axis": {"orient": "bottom", "values": [0,25,50,75,100,125,150,175,200], "labelExpr": "datum.value % 50 === 0 ? datum.label : ''", "title": "time (s)", "titleY": 47, "titleBaseline": "middle", "titleFontSize": 18}},
           "y": {"field": "v", "type": "quantitative", "scale": {"domain": [10,50], "nice": false, "zero": false}, "axis": {"orient": "left", "values": [15,22.5,30,37.5,45], "labelExpr": "datum.value % 15 === 0 ? datum.label : ''", "title": null}},
           "color": {"datum": "the preceding car", "type": "nominal", "scale": {"domain": ["the preceding car", "the car"], "range": ["#111111", "#ee1111"]}, "legend": {"legendX": 6, "legendY": 41, "rowPadding": 3}}}},
         {"data": {"name": "Evc"}, "mark": {"type": "line", "strokeWidth": 1.1, "clip": true},
          "encoding": {"x": {"field": "t", "type": "quantitative", "scale": {"domain": [0,200], "nice": false, "zero": false}, "axis": null},
           "y": {"field": "v", "type": "quantitative", "scale": {"domain": [10,50], "nice": false, "zero": false}, "axis": null},
           "color": {"datum": "the car", "type": "nominal", "scale": {"domain": ["the preceding car", "the car"], "range": ["#111111", "#ee1111"]}}}}
        ],
        "resolve": {"axis": {"x": "independent", "y": "independent"}}}
      ]}
    ]}
  ]},
 {"bounds": "flush", "spacing": 0, "resolve": {"scale": {"color": "independent"}, "legend": {"color": "independent"}},
  "vconcat": [
   {"width": 283, "height": 99, "title": {"text": "B", "offset": 2},
    "layer": [
     {"data": {"name": "Bsr"}, "mark": {"type": "rule", "color": "#555", "strokeDash": [3,3], "strokeWidth": 1},
      "encoding": {"x": {"field": "x0", "type": "quantitative", "scale": {"domain": [0,230], "nice": false, "zero": false}, "axis": {"orient": "top", "values": [0,25,50,75,100,125,150,175,200,225], "labels": false, "tickSize": -4, "title": null}}, "x2": {"field": "x1"},
       "y": {"field": "y0", "type": "quantitative", "scale": {"domain": [12,42], "nice": false, "zero": false}, "axis": {"orient": "right", "values": [15,20,25,30,35,40], "labels": false, "tickSize": -4, "title": null}}, "y2": {"field": "y1"}}},
     {"data": {"name": "Bs"}, "mark": {"type": "line", "color": "#3c3c3c", "strokeWidth": 1, "clip": true},
      "encoding": {"x": {"field": "t", "type": "quantitative", "scale": {"domain": [0,230], "nice": false, "zero": false}, "axis": null},
       "y": {"field": "v", "type": "quantitative", "scale": {"domain": [12,42], "nice": false, "zero": false}, "axis": {"orient": "left", "values": [15,20,25,30,35,40], "labelExpr": "datum.value % 10 === 0 ? datum.label : ''", "title": "velocity (km/h) spacing (m)", "titleX": -39, "titleY": 111, "titleBaseline": "bottom", "titleAlign": "center", "titleAngle": 270}}}}
    ],
    "resolve": {"axis": {"x": "independent", "y": "independent"}}},
   {"width": 283, "height": 99,
    "layer": [
     {"data": {"name": "Bvr"}, "mark": {"type": "rule", "color": "#444", "strokeDash": [4,3], "strokeWidth": 1},
      "encoding": {"x": {"field": "x0", "type": "quantitative", "scale": {"domain": [0,230], "nice": false, "zero": false}, "axis": {"orient": "top", "values": [0,25,50,75,100,125,150,175,200,225], "labels": false, "tickSize": -4, "title": null}}, "x2": {"field": "x1"},
       "y": {"field": "y0", "type": "quantitative", "scale": {"domain": [10,50], "nice": false, "zero": false}, "axis": {"orient": "right", "values": [10,15,20,25,30,35,40,45,50], "labels": false, "tickSize": -4, "title": null}}, "y2": {"field": "y1"}}},
     {"data": {"name": "Bvp"}, "mark": {"type": "line", "strokeWidth": 1.3, "clip": true},
      "encoding": {"x": {"field": "t", "type": "quantitative", "scale": {"domain": [0,230], "nice": false, "zero": false}, "axis": {"orient": "bottom", "values": [0,25,50,75,100,125,150,175,200,225], "labelExpr": "datum.value % 50 === 0 ? datum.label : ''", "title": "time (s)", "titleY": 49, "titleBaseline": "middle", "titleFontSize": 18}},
       "y": {"field": "v", "type": "quantitative", "scale": {"domain": [10,50], "nice": false, "zero": false}, "axis": {"orient": "left", "values": [10,15,20,25,30,35,40,45,50], "labelExpr": "datum.value % 10 === 0 ? datum.label : ''", "title": null}},
       "color": {"datum": "the preceding car", "type": "nominal", "scale": {"domain": ["the preceding car", "the car"], "range": ["#111111", "#ee1111"]}, "legend": {"legendX": 66, "legendY": 47}}}},
     {"data": {"name": "Bvc"}, "mark": {"type": "line", "strokeWidth": 1.1, "clip": true},
      "encoding": {"x": {"field": "t", "type": "quantitative", "scale": {"domain": [0,230], "nice": false, "zero": false}, "axis": null},
       "y": {"field": "v", "type": "quantitative", "scale": {"domain": [10,50], "nice": false, "zero": false}, "axis": null},
       "color": {"datum": "the car", "type": "nominal", "scale": {"domain": ["the preceding car", "the car"], "range": ["#111111", "#ee1111"]}}}}
    ],
    "resolve": {"axis": {"x": "independent", "y": "independent"}}},
   {"width": 1, "height": 176, "data": {"values": [{}]}, "mark": {"type": "point", "opacity": 0}, "encoding": {}, "view": {"stroke": null}},
   {"width": 277, "height": 96, "title": {"text": "D", "offset": -9},
    "layer": [
     {"data": {"name": "Dsr"}, "mark": {"type": "rule", "color": "#555", "strokeDash": [3,3], "strokeWidth": 1},
      "encoding": {"x": {"field": "x0", "type": "quantitative", "scale": {"domain": [0,170], "nice": false, "zero": false}, "axis": {"orient": "top", "values": [0,25,50,75,100,125,150], "labels": false, "tickSize": -4, "title": null}}, "x2": {"field": "x1"},
       "y": {"field": "y0", "type": "quantitative", "scale": {"domain": [15,55], "nice": false, "zero": false}, "axis": {"orient": "right", "values": [20,25,30,35,40,45,50,55], "labels": false, "tickSize": -4, "title": null}}, "y2": {"field": "y1"}}},
     {"data": {"name": "Ds"}, "mark": {"type": "line", "color": "#3c3c3c", "strokeWidth": 1, "clip": true},
      "encoding": {"x": {"field": "t", "type": "quantitative", "scale": {"domain": [0,170], "nice": false, "zero": false}, "axis": null},
       "y": {"field": "v", "type": "quantitative", "scale": {"domain": [15,55], "nice": false, "zero": false}, "axis": {"orient": "left", "values": [20,25,30,35,40,45,50,55], "labelExpr": "datum.value % 10 === 0 ? datum.label : ''", "title": "velocity (km/h) spacing (m)", "titleX": -41, "titleY": 102, "titleBaseline": "bottom", "titleAlign": "center", "titleAngle": 270}}}}
    ],
    "resolve": {"axis": {"x": "independent", "y": "independent"}}},
   {"width": 277, "height": 95,
    "layer": [
     {"data": {"name": "Dvr"}, "mark": {"type": "rule", "color": "#aaa", "strokeDash": [2,2], "strokeWidth": 1},
      "encoding": {"x": {"field": "x0", "type": "quantitative", "scale": {"domain": [0,170], "nice": false, "zero": false}, "axis": {"orient": "top", "values": [0,25,50,75,100,125,150], "labels": false, "tickSize": -4, "title": null}}, "x2": {"field": "x1"},
       "y": {"field": "y0", "type": "quantitative", "scale": {"domain": [10,50], "nice": false, "zero": false}, "axis": {"orient": "right", "values": [15,22.5,30,37.5,45], "labels": false, "tickSize": -4, "title": null}}, "y2": {"field": "y1"}}},
     {"data": {"name": "Dvp"}, "mark": {"type": "line", "strokeWidth": 1.2, "clip": true},
      "encoding": {"x": {"field": "t", "type": "quantitative", "scale": {"domain": [0,170], "nice": false, "zero": false}, "axis": {"orient": "bottom", "values": [0,25,50,75,100,125,150], "labelExpr": "datum.value % 50 === 0 ? datum.label : ''", "title": "time (s)", "titleY": 49, "titleBaseline": "middle", "titleFontSize": 18}},
       "y": {"field": "v", "type": "quantitative", "scale": {"domain": [10,50], "nice": false, "zero": false}, "axis": {"orient": "left", "values": [15,22.5,30,37.5,45], "labelExpr": "datum.value % 15 === 0 ? datum.label : ''", "title": null}},
       "color": {"datum": "the preceding car", "type": "nominal", "scale": {"domain": ["the preceding car", "the car"], "range": ["#111111", "#ee1111"]}, "legend": {"legendX": 7, "legendY": 8}}}},
     {"data": {"name": "Dvc"}, "mark": {"type": "line", "strokeWidth": 1.1, "clip": true},
      "encoding": {"x": {"field": "t", "type": "quantitative", "scale": {"domain": [0,170], "nice": false, "zero": false}, "axis": null},
       "y": {"field": "v", "type": "quantitative", "scale": {"domain": [10,50], "nice": false, "zero": false}, "axis": null},
       "color": {"datum": "the car", "type": "nominal", "scale": {"domain": ["the preceding car", "the car"], "range": ["#111111", "#ee1111"]}}}}
    ],
    "resolve": {"axis": {"x": "independent", "y": "independent"}}},
   {"width": 1, "height": 164, "data": {"values": [{}]}, "mark": {"type": "point", "opacity": 0}, "encoding": {}, "view": {"stroke": null}},
   {"width": 276, "height": 94, "title": {"text": "F", "offset": -2},
    "layer": [
     {"data": {"name": "Fsr"}, "mark": {"type": "rule", "color": "#555", "strokeDash": [3,3], "strokeWidth": 1},
      "encoding": {"x": {"field": "x0", "type": "quantitative", "scale": {"domain": [0,193.5], "nice": false, "zero": false}, "axis": {"orient": "top", "values": [0,25,50,75,100,125,150,175], "labels": false, "tickSize": -4, "title": null}}, "x2": {"field": "x1"},
       "y": {"field": "y0", "type": "quantitative", "scale": {"domain": [5,35], "nice": false, "zero": false}, "axis": {"orient": "right", "values": [5,10,15,20,25,30,35], "labels": false, "tickSize": -4, "title": null}}, "y2": {"field": "y1"}}},
     {"data": {"name": "Fs"}, "mark": {"type": "line", "color": "#3c3c3c", "strokeWidth": 1, "clip": true},
      "encoding": {"x": {"field": "t", "type": "quantitative", "scale": {"domain": [0,193.5], "nice": false, "zero": false}, "axis": null},
       "y": {"field": "v", "type": "quantitative", "scale": {"domain": [5,35], "nice": false, "zero": false}, "axis": {"orient": "left", "values": [5,10,15,20,25,30,35], "labelExpr": "datum.value % 10 === 0 ? datum.label : ''", "title": "velocity (km/h) spacing (m)", "titleX": -41, "titleY": 105, "titleBaseline": "bottom", "titleAlign": "center", "titleAngle": 270}}}}
    ],
    "resolve": {"axis": {"x": "independent", "y": "independent"}}},
   {"width": 276, "height": 97,
    "layer": [
     {"data": {"name": "Fvr"}, "mark": {"type": "rule", "color": "#888", "strokeDash": [2,2], "strokeWidth": 1},
      "encoding": {"x": {"field": "x0", "type": "quantitative", "scale": {"domain": [0,193.5], "nice": false, "zero": false}, "axis": {"orient": "top", "values": [0,25,50,75,100,125,150,175], "labels": false, "tickSize": -4, "title": null}}, "x2": {"field": "x1"},
       "y": {"field": "y0", "type": "quantitative", "scale": {"domain": [15,55], "nice": false, "zero": false}, "axis": {"orient": "right", "values": [15,20,25,30,35,40,45,50,55], "labels": false, "tickSize": -4, "title": null}}, "y2": {"field": "y1"}}},
     {"data": {"name": "Fvp"}, "mark": {"type": "line", "strokeWidth": 1.3, "clip": true},
      "encoding": {"x": {"field": "t", "type": "quantitative", "scale": {"domain": [0,193.5], "nice": false, "zero": false}, "axis": {"orient": "bottom", "values": [0,25,50,75,100,125,150,175], "labelExpr": "datum.value % 50 === 0 ? datum.label : ''", "title": "time (s)", "titleY": 48, "titleBaseline": "middle", "titleFontSize": 18}},
       "y": {"field": "v", "type": "quantitative", "scale": {"domain": [15,55], "nice": false, "zero": false}, "axis": {"orient": "left", "values": [15,20,25,30,35,40,45,50,55], "labelExpr": "datum.value % 10 === 0 ? datum.label : ''", "title": null}},
       "color": {"datum": "the preceding car", "type": "nominal", "scale": {"domain": ["the preceding car", "the car"], "range": ["#111111", "#ee1111"]}, "legend": {"legendX": 5, "legendY": 50}}}},
     {"data": {"name": "Fvc"}, "mark": {"type": "line", "strokeWidth": 1.1, "clip": true},
      "encoding": {"x": {"field": "t", "type": "quantitative", "scale": {"domain": [0,193.5], "nice": false, "zero": false}, "axis": null},
       "y": {"field": "v", "type": "quantitative", "scale": {"domain": [15,55], "nice": false, "zero": false}, "axis": null},
       "color": {"datum": "the car", "type": "nominal", "scale": {"domain": ["the preceding car", "the car"], "range": ["#111111", "#ee1111"]}}}}
    ],
    "resolve": {"axis": {"x": "independent", "y": "independent"}}}
  ]}
]
}
